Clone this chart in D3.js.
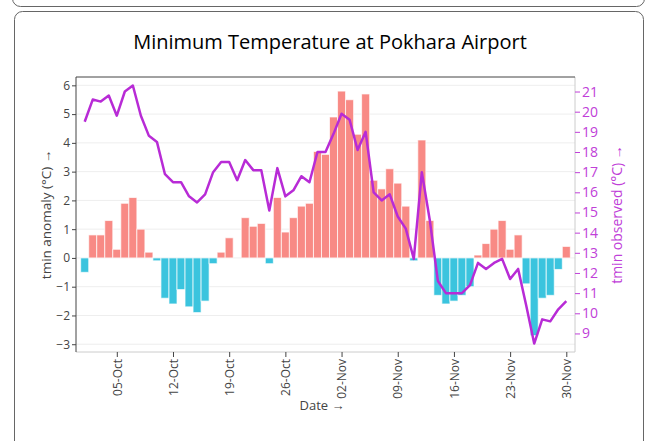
<!DOCTYPE html>
<html>
<head>
<meta charset="utf-8">
<script src="https://cdn.jsdelivr.net/npm/d3@7"></script>
<style>
  body { margin: 0; background: #fff; font-family: "Open Sans", sans-serif; }
</style>
</head>
<body>
<div id="chart"></div>
<script>
// daily data, 1 Oct - 30 Nov
var firstDay = "2023-10-01";
var lastDay = "2023-11-30";

// tmin anomaly (°C), one per day
var anomaly = [
  -0.5, 0.8, 0.8, 1.3, 0.3, 1.9, 2.1, 1.0, 0.2, -0.1,
  -1.4, -1.6, -1.1, -1.7, -1.9, -1.5, -0.2, 0.2, 0.7, 0,
  1.4, 1.1, 1.2, -0.2, 2.1, 0.9, 1.4, 1.8, 1.9, 3.7,
  3.6, 4.9, 5.8, 5.5, 4.3, 5.7, 2.7, 2.4, 3.1, 2.6,
  1.8, -0.1, 4.1, 1.3, -1.3, -1.6, -1.5, -1.3, -1.0, 0.1,
  0.5, 1.0, 1.3, 0.3, 0.8, -0.9, -2.7, -1.4, -1.3, -0.4, 0.4
];

// tmin observed (°C), one per day
var observed = [
  19.5, 20.6, 20.5, 20.8, 19.8, 21.0, 21.3, 19.8, 18.8, 18.5,
  16.9, 16.5, 16.5, 15.8, 15.5, 15.9, 17.0, 17.5, 17.5, 16.6,
  17.6, 17.1, 17.1, 15.1, 17.2, 15.8, 16.1, 16.8, 16.5, 18.0,
  18.0, 18.9, 19.9, 19.6, 18.1, 19.0, 16.0, 15.6, 15.9, 14.8,
  14.2, 12.7, 17.0, 14.6, 11.6, 11.0, 11.0, 11.0, 11.4, 12.5,
  12.2, 12.5, 12.7, 11.7, 12.2, 10.4, 8.5, 9.7, 9.6, 10.2, 10.6
];

var dateTicks = ["2023-10-05", "2023-10-12", "2023-10-19", "2023-10-26", "2023-11-02",
                 "2023-11-09", "2023-11-16", "2023-11-23", "2023-11-30"];
var anomalyTicks = [-3, -2, -1, 0, 1, 2, 3, 4, 5, 6];
var observedTicks = [9, 10, 11, 12, 13, 14, 15, 16, 17, 18, 19, 20, 21];

var svgWidth = 646;
var svgHeight = 441;
var plot = { left: 76, right: 575, top: 77, bottom: 352 };

var parseDay = d3.utcParse("%Y-%m-%d");
var days = d3.utcDay.range(parseDay(firstDay), d3.utcDay.offset(parseDay(lastDay), 1));
var data = days.map(function(d, i) {
  return { date: d, anomaly: anomaly[i], observed: observed[i] };
});

var svg = d3.select("#chart")
  .append("svg")
  .attr("width", svgWidth)
  .attr("height", svgHeight);

// card outlines
svg.append("rect")
  .attr("x", 12.5).attr("y", -30).attr("width", 632).attr("height", 36.5)
  .attr("rx", 8).attr("fill", "none").attr("stroke", "#666");
svg.append("rect")
  .attr("x", 14.5).attr("y", 11.5).attr("width", 629).attr("height", 460)
  .attr("rx", 8).attr("fill", "none").attr("stroke", "#666");

svg.append("text")
  .attr("x", 330).attr("y", 49)
  .attr("text-anchor", "middle")
  .attr("font-size", 20)
  .attr("font-weight", 500)
  .attr("fill", "#000")
  .text("Minimum Temperature at Pokhara Airport");

var x = d3.scaleUtc()
  .domain([d3.utcHour.offset(parseDay(firstDay), -26), d3.utcHour.offset(parseDay(lastDay), 26)])
  .range([plot.left, plot.right]);

var y = d3.scaleLinear()
  .domain([-3.27, 6.29])
  .range([plot.bottom, plot.top]);

var y2 = d3.scaleLinear()
  .domain([8.08, 21.72])
  .range([plot.bottom, plot.top]);

// grid
svg.append("g")
  .selectAll("line")
  .data(anomalyTicks)
  .enter()
  .append("line")
  .attr("x1", plot.left).attr("x2", plot.right)
  .attr("y1", function(d) { return y(d); })
  .attr("y2", function(d) { return y(d); })
  .attr("stroke", "#eee");

// bars
var dayWidth = x(days[1]) - x(days[0]);
svg.append("g")
  .selectAll("rect")
  .data(data)
  .enter()
  .append("rect")
  .attr("x", function(d) { return x(d.date) - dayWidth / 2; })
  .attr("width", dayWidth)
  .attr("y", function(d) { return Math.min(y(0), y(d.anomaly)); })
  .attr("height", function(d) { return Math.abs(y(d.anomaly) - y(0)); })
  .attr("fill", function(d) { return d.anomaly >= 0 ? "#f88a85" : "#3bc4de"; })
  .attr("stroke", "#fff")
  .attr("stroke-opacity", 0.7)
  .attr("stroke-width", 1);

// observed line
var line = d3.line()
  .x(function(d) { return x(d.date); })
  .y(function(d) { return y2(d.observed); });

svg.append("path")
  .datum(data)
  .attr("d", line)
  .attr("fill", "none")
  .attr("stroke", "#b82bd6")
  .attr("stroke-width", 2.5)
  .attr("stroke-linejoin", "round");

// frame
svg.append("line").attr("x1", plot.left).attr("x2", plot.right)
  .attr("y1", plot.bottom).attr("y2", plot.bottom).attr("stroke", "#ccc");
svg.append("line").attr("x1", plot.right).attr("x2", plot.right)
  .attr("y1", plot.top).attr("y2", plot.bottom).attr("stroke", "#ccc");
svg.append("line").attr("x1", plot.left).attr("x2", plot.right)
  .attr("y1", plot.top).attr("y2", plot.top).attr("stroke", "#444");
svg.append("line").attr("x1", plot.left).attr("x2", plot.left)
  .attr("y1", plot.top).attr("y2", plot.bottom).attr("stroke", "#444");

// left axis
var leftAxis = svg.append("g")
  .attr("transform", "translate(" + plot.left + ",0)")
  .call(d3.axisLeft(y).tickValues(anomalyTicks).tickSize(4).tickPadding(2));
leftAxis.select(".domain").remove();
leftAxis.selectAll("line").attr("stroke", "#444");
leftAxis.selectAll("text").attr("fill", "#444").attr("font-size", 12)
  .attr("font-family", "Open Sans");

// right axis
var purple = "#c040d8";
var rightAxis = svg.append("g")
  .attr("transform", "translate(" + plot.right + ",0)")
  .call(d3.axisRight(y2).tickValues(observedTicks).tickSize(5).tickPadding(2));
rightAxis.select(".domain").remove();
rightAxis.selectAll("line").attr("stroke", purple);
rightAxis.selectAll("text").attr("fill", purple).attr("font-size", 14)
  .attr("font-family", "Open Sans");

// bottom axis
var bottomAxis = svg.append("g")
  .attr("transform", "translate(0," + plot.bottom + ")")
  .call(d3.axisBottom(x).tickValues(dateTicks.map(parseDay))
    .tickFormat(d3.utcFormat("%d-%b")).tickSize(5).tickPadding(2));
bottomAxis.select(".domain").remove();
bottomAxis.selectAll("line").attr("stroke", "#444");
bottomAxis.selectAll("text")
  .attr("fill", "#444").attr("font-size", 12).attr("font-family", "Open Sans")
  .attr("transform", "rotate(-90)")
  .attr("text-anchor", "end")
  .attr("x", -7).attr("y", 0).attr("dy", "0.35em");

// axis titles
svg.append("text")
  .attr("transform", "translate(51," + ((plot.top + plot.bottom) / 2) + ") rotate(-90)")
  .attr("text-anchor", "middle")
  .attr("font-size", 13.5).attr("fill", "#444")
  .text("tmin anomaly (°C) →");

svg.append("text")
  .attr("transform", "translate(622," + ((plot.top + plot.bottom) / 2) + ") rotate(-90)")
  .attr("text-anchor", "middle")
  .attr("font-size", 14).attr("fill", purple)
  .text("tmin observed (°C) →");

svg.append("text")
  .attr("x", 322).attr("y", 410)
  .attr("text-anchor", "middle")
  .attr("font-size", 13).attr("fill", "#444")
  .text("Date →");
</script>
</body>
</html>
